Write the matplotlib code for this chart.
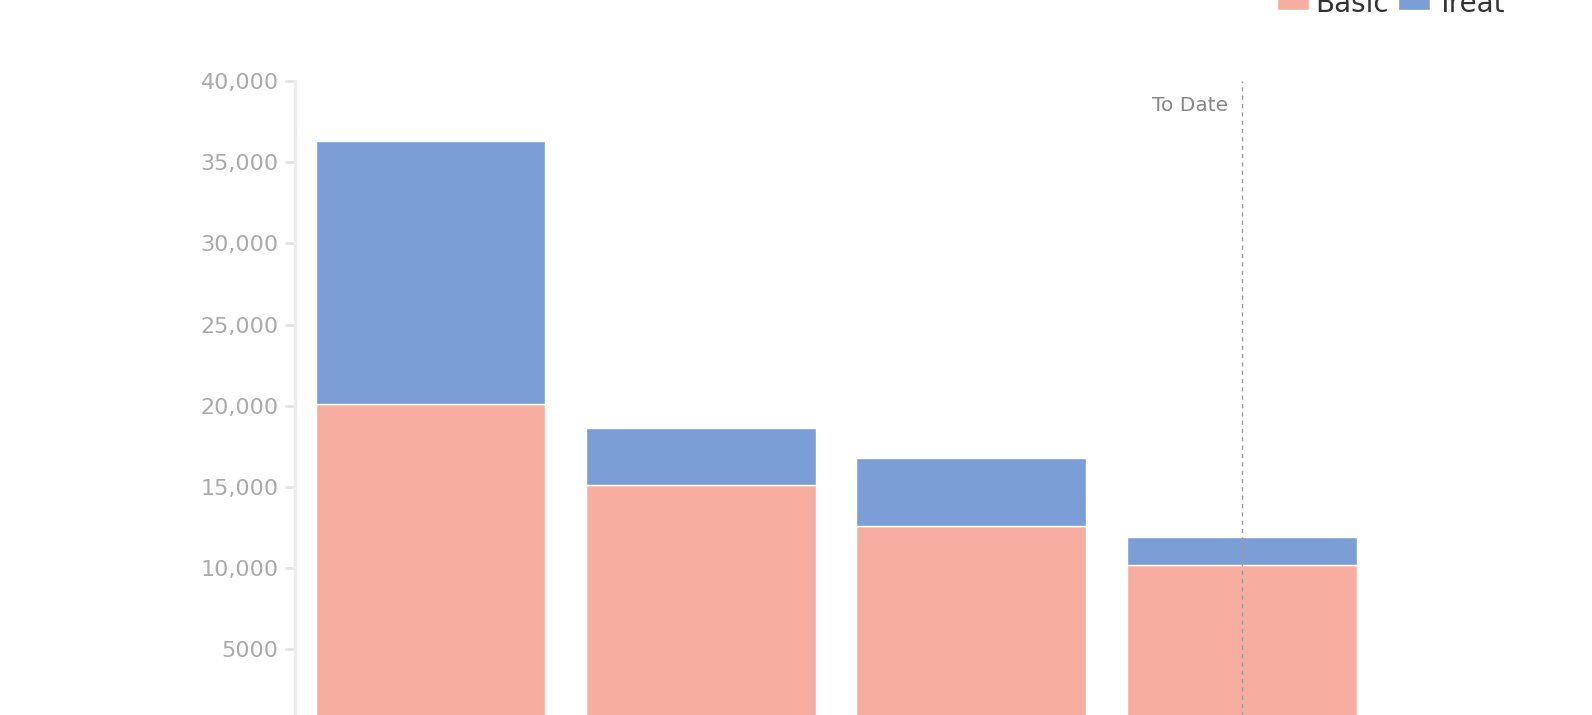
import numpy as np
import matplotlib
matplotlib.use("Agg")
import matplotlib.pyplot as plt
from matplotlib.ticker import FuncFormatter

plt.rcParams['font.family'] = ['DejaVu Sans']

# values (stacked: basic at the bottom, treat on top)
periods = ["P1", "P2", "P3", "P4"]
basic = [20100, 15100, 12600, 10150]
treat = [16200, 3550, 4200, 1750]
yticks = [5000, 10000, 15000, 20000, 25000, 30000, 35000, 40000]
marker_label = "To Date"
marker_pos = 3

basic_col = "#F7AEA1"
treat_col = "#7B9ED6"

fig = plt.figure(figsize=(15.92, 7.15), dpi=100)
ax = fig.add_axes([0.1855, -0.0211, 0.6794, 0.9074])

x = np.arange(len(periods))
ax.bar(x, basic, width=0.85, color=basic_col, edgecolor="white", linewidth=1, label="Basic")
ax.bar(x, treat, width=0.85, bottom=basic, color=treat_col, edgecolor="white", linewidth=1, label="Treat")

ax.axvline(marker_pos, color="#9a9a9a", linestyle=(0, (3, 3)), linewidth=1, zorder=5)
ax.text(marker_pos - 0.05, 38500, marker_label, ha="right", va="center",
        fontsize=14.5, color="#888888")

ax.set_xlim(-0.5, 3.5)
ax.set_ylim(0, 40000)
ax.set_yticks(yticks)
ax.yaxis.set_major_formatter(FuncFormatter(lambda v, p: f"{int(v):,}" if v >= 10000 else f"{int(v)}"))
ax.tick_params(axis="y", colors="#e3e3e3", labelcolor="#aaaaaa", labelsize=16,
               length=7, width=2, pad=5)
ax.set_xticks([])

for s in ["top", "right", "bottom"]:
    ax.spines[s].set_visible(False)
ax.spines["left"].set_color("#ececec")
ax.spines["left"].set_linewidth(2.5)

handles, labels = ax.get_legend_handles_labels()
fig.legend(handles, labels, loc="center right", bbox_to_anchor=(1505 / 1592, 1 - 4 / 715),
           ncol=2, frameon=False, fontsize=20, labelcolor="#333333",
           handlelength=1.15, handleheight=0.5, handletextpad=0.25, columnspacing=0.3,
           borderpad=0, borderaxespad=0)

fig.savefig("out.png", dpi=100)
